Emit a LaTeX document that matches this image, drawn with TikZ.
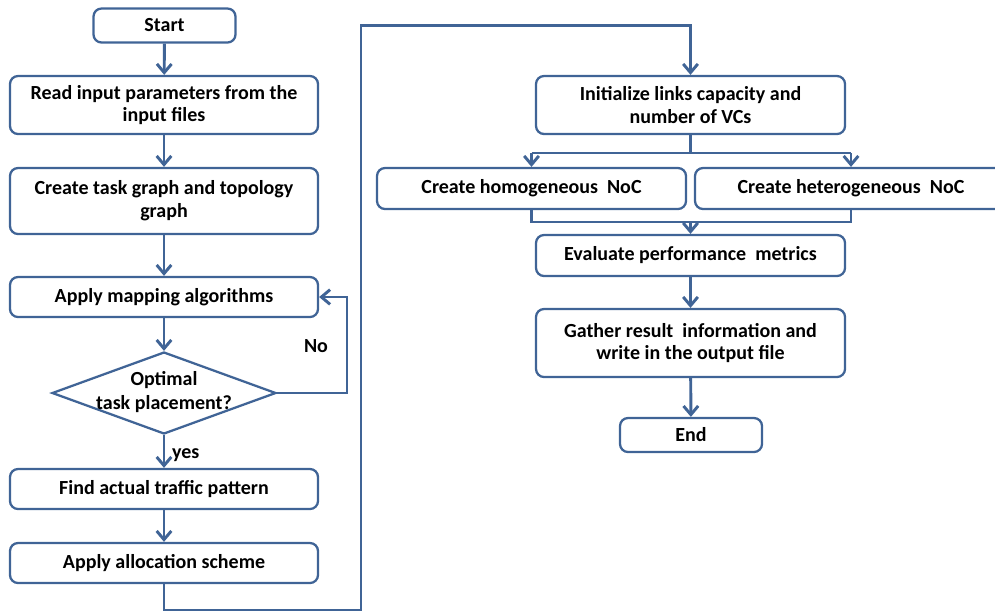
\documentclass[tikz,border=0pt]{standalone}
\usepackage{fontspec}
\setmainfont{Carlito}
\usetikzlibrary{arrows.meta,shapes.geometric}
\definecolor{lc}{RGB}{64,100,150}
\begin{document}
\begin{tikzpicture}[x=0.75pt,y=-0.75pt,
  box/.style={draw=lc,line width=1.7pt,rounded corners=6pt,fill=white,inner sep=0pt,align=center,font=\fontsize{15}{17}\selectfont\bfseries},
  dec/.style={draw=lc,line width=1.7pt,diamond,fill=white,inner sep=0pt},
  txt/.style={inner sep=0pt,align=center,font=\fontsize{15}{18.5}\selectfont\bfseries},
  arr/.style={draw=lc,line width=2.2pt,-{Straight Barb[length=6.5pt,width=11pt]}},
  ln/.style={draw=lc,line width=2.2pt},
  lbl/.style={font=\fontsize{15}{17}\selectfont\bfseries,inner sep=0pt}]
\useasboundingbox (0,0) rectangle (995,612);
\clip (0,0) rectangle (995,612);
% left column
\node[box,minimum width=142*0.75pt,minimum height=34*0.75pt] (start) at (164.5,25.5) {Start};
\node[box,minimum width=308*0.75pt,minimum height=58*0.75pt] (read) at (164,105) {Read input parameters from the\\input files};
\node[box,minimum width=308*0.75pt,minimum height=66*0.75pt] (task) at (164,201) {Create task graph and topology\\graph};
\node[box,minimum width=308*0.75pt,minimum height=40*0.75pt] (map) at (164,297) {Apply mapping algorithms};
\node[dec,minimum width=224*0.75pt,minimum height=82*0.75pt] (dia) at (164,393) {};
\node[txt] (diat) at (164,392) {Optimal\\task placement?};
\node[box,minimum width=308*0.75pt,minimum height=40*0.75pt] (find) at (164,489) {Find actual traffic pattern};
\node[box,minimum width=308*0.75pt,minimum height=40*0.75pt] (alloc) at (164,563) {Apply allocation scheme};
% right column
\node[box,minimum width=309*0.75pt,minimum height=58*0.75pt] (init) at (690.5,105) {Initialize links capacity and\\number of VCs};
\node[box,minimum width=309*0.75pt,minimum height=41*0.75pt] (homo) at (531.5,188.5) {Create homogeneous\ \ NoC};
\node[box,minimum width=312*0.75pt,minimum height=41*0.75pt] (hetero) at (851,188.5) {Create heterogeneous\ \ NoC};
\node[box,minimum width=309*0.75pt,minimum height=41*0.75pt] (eval) at (690.5,255.5) {Evaluate performance\ \ metrics};
\node[box,minimum width=309*0.75pt,minimum height=68*0.75pt] (gather) at (690.5,343) {Gather result\ \ information and\\write in the output file};
\node[box,minimum width=142*0.75pt,minimum height=34*0.75pt] (end) at (691,435) {End};
% coordinates
\coordinate (c1) at (164,610);
\coordinate (c2) at (361,610);
\coordinate (c3) at (361,25.5);
\coordinate (c4) at (690.5,25.5);
\coordinate (n1) at (347,393);
\coordinate (n2) at (347,297);
\coordinate (s0) at (690.5,153);
\coordinate (s1) at (531.5,153);
\coordinate (s2) at (851,153);
\coordinate (m1) at (531.5,222);
\coordinate (m2) at (851,222);
\coordinate (m0) at (690.5,222);
% connectors left
\draw[arr] (start) -- (read);
\draw[arr] (read) -- (task);
\draw[arr] (task) -- (map);
\draw[arr] (map) -- (dia.north);
\draw[arr] (dia.south) -- (find) node[lbl,pos=0.62,right=5pt] {yes};
\draw[arr] (find) -- (alloc);
\draw[arr] (dia.east) -- (n1) -- (n2) -- (map.east);
\node[lbl] (no) at (316,346) {No};
% long connector
\draw[arr,line join=miter] (alloc.south) -- (c1) -- (c2) -- (c3) -- (c4) -- (init.north);
% split
\draw[ln] (init.south) -- (s0);
\draw[ln] (s1) -- (s2);
\draw[arr] (s1) -- (homo.north -| s1);
\draw[arr] (s2) -- (hetero.north -| s2);
% merge
\draw[ln,line join=miter] (homo.south -| m1) -- (m1) -- (m2) -- (hetero.south -| m2);
\draw[arr] (m0) -- (eval.north);
\draw[arr] (eval) -- (gather);
\draw[arr] (gather) -- (end);
\end{tikzpicture}
\end{document}
